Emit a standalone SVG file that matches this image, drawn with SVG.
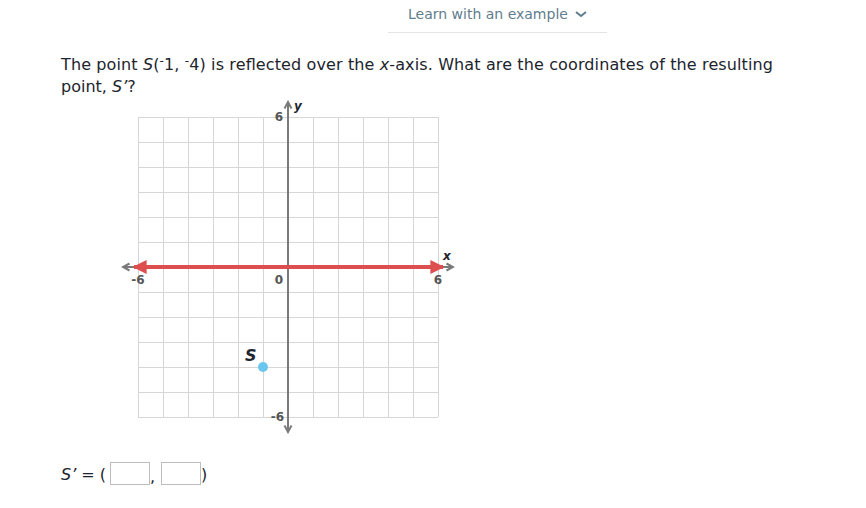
<svg xmlns="http://www.w3.org/2000/svg" width="866" height="508" viewBox="0 0 866 508">
<style>
text{font-family:"DejaVu Sans","Verdana",sans-serif;}
.q{font-size:16px;fill:#21242c;}
.sup{font-size:12px;}
.g{stroke:#d6d6d6;stroke-width:1;fill:none;}
.ax{stroke:#7a7a7a;stroke-width:2;fill:none;}
.lab{font-size:12px;font-weight:bold;fill:#555;}
.box{fill:#fff;stroke:#bdbdbd;stroke-width:1;}
</style>
<defs>
<marker id="gh" viewBox="0 0 10 10" refX="8" refY="5" markerWidth="10" markerHeight="10" orient="auto-start-reverse" markerUnits="userSpaceOnUse">
<path d="M1.5,1.5 L8,5 L1.5,8.5" fill="none" stroke="#7a7a7a" stroke-width="2"/>
</marker>
<marker id="rh" viewBox="0 0 10 10" refX="9" refY="5" markerWidth="14" markerHeight="14" orient="auto-start-reverse" markerUnits="userSpaceOnUse">
<path d="M0,0 L10,5 L0,10 Z" fill="#dd4f4f"/>
</marker>
</defs>
<rect width="866" height="508" fill="#fff"/>
<g id="header">
<text x="408" y="19" font-size="14" fill="#5f7d8e">Learn with an example</text>
<path d="M576,12 L581,16 L586,12" fill="none" stroke="#5f7d8e" stroke-width="2"/>
<line x1="388" y1="32.5" x2="607" y2="32.5" stroke="#e4e4e4"/>
</g>
<g id="question">
<text x="61" y="70" class="q" textLength="712" lengthAdjust="spacing">The point <tspan font-style="italic">S</tspan>(<tspan class="sup" dy="-5">-</tspan><tspan dy="5">1, </tspan><tspan class="sup" dy="-5">-</tspan><tspan dy="5">4) is reflected over the </tspan><tspan font-style="italic">x</tspan>-axis. What are the coordinates of the resulting</text>
<text x="61" y="92" class="q">point, <tspan font-style="italic">S’</tspan>?</text>
</g>
<g id="grid">
<path class="g" d="M138.5,117 V417 M163.5,117 V417 M188.5,117 V417 M213.5,117 V417 M238.5,117 V417 M263.5,117 V417 M313.5,117 V417 M338.5,117 V417 M363.5,117 V417 M388.5,117 V417 M413.5,117 V417 M438.5,117 V417 M138,117.5 H438 M138,142.5 H438 M138,167.5 H438 M138,192.5 H438 M138,217.5 H438 M138,242.5 H438 M138,292.5 H438 M138,317.5 H438 M138,342.5 H438 M138,367.5 H438 M138,392.5 H438 M138,417.5 H438"/>
</g>
<g id="connectors">
<line class="ax" x1="123" y1="267" x2="453" y2="267" marker-start="url(#gh)" marker-end="url(#gh)"/>
<line class="ax" x1="288" y1="102" x2="288" y2="432" marker-start="url(#gh)" marker-end="url(#gh)"/>
<line x1="134" y1="267" x2="443" y2="267" stroke="#dd4f4f" stroke-width="4" marker-start="url(#rh)" marker-end="url(#rh)"/>
</g>
<g id="labels">
<text class="lab" x="138" y="284" text-anchor="middle">-6</text>
<text class="lab" x="438" y="284" text-anchor="middle">6</text>
<text class="lab" x="279" y="284" text-anchor="middle">0</text>
<text class="lab" x="283" y="121" text-anchor="end">6</text>
<text class="lab" x="284" y="421" text-anchor="end">-6</text>
<text x="443" y="260" font-size="12" font-weight="bold" font-style="italic" fill="#21242c">x</text>
<text x="294" y="110" font-size="12" font-weight="bold" font-style="italic" fill="#21242c">y</text>
</g>
<g id="pointS">
<circle cx="263" cy="367" r="5" fill="#6bc7f0"/>
<text x="245" y="361" font-size="16" font-weight="bold" font-style="italic" fill="#21242c">S</text>
</g>
<g id="answer">
<text x="61" y="480" class="q"><tspan font-style="italic">S’</tspan> = (</text>
<rect class="box" x="110.5" y="462.5" width="39" height="22"/>
<text x="150" y="482" class="q">,</text>
<rect class="box" x="161.5" y="462.5" width="39" height="22"/>
<text x="201" y="480" class="q">)</text>
</g>
</svg>
